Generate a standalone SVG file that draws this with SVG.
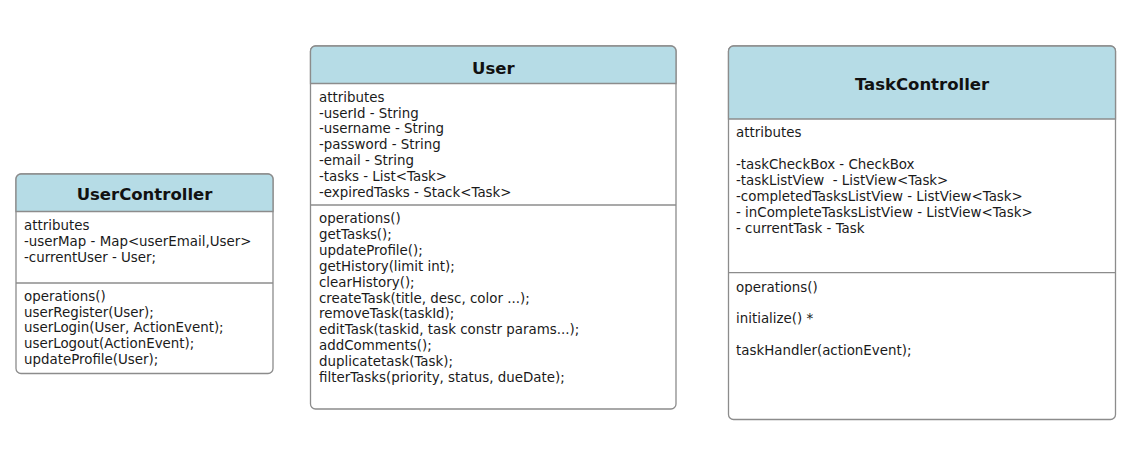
<svg xmlns="http://www.w3.org/2000/svg" width="1138" height="475" viewBox="0 0 1138 475">
<style>
.box{fill:#ffffff;stroke:#8c8c8c;stroke-width:1.3}
.hdr{fill:#b6dce6;stroke:#8c8c8c;stroke-width:1.3}
.sep{stroke:#8c8c8c;stroke-width:1.3;fill:none}
.title{font-family:"DejaVu Sans",Verdana,sans-serif;font-weight:bold;font-size:16.5px;fill:#111;text-anchor:middle}
.t{font-family:"DejaVu Sans",Verdana,sans-serif;font-size:13.4px;fill:#1a1a1a;white-space:pre}
</style>
<rect width="1138" height="475" fill="#ffffff"/>
<g id="connectors"></g>
<g id="UserController">
<rect class="box" x="16" y="174" width="257" height="199.5" rx="5"/>
<path class="hdr" d="M16,211.5 V179 A5,5 0 0 1 21,174 H268 A5,5 0 0 1 273,179 V211.5 Z"/>
<line class="sep" x1="16" y1="283" x2="273" y2="283"/>
<text class="title" x="144.5" y="200">UserController</text>
<text class="t" x="24" y="230">attributes</text>
<text class="t" x="24" y="245.8">-userMap - Map&lt;userEmail,User&gt;</text>
<text class="t" x="24" y="261.6">-currentUser - User;</text>
<text class="t" x="24" y="300.7">operations()</text>
<text class="t" x="24" y="316.5">userRegister(User);</text>
<text class="t" x="24" y="332.3">userLogin(User, ActionEvent);</text>
<text class="t" x="24" y="348.1">userLogout(ActionEvent);</text>
<text class="t" x="24" y="363.9">updateProfile(User);</text>
</g>
<g id="User">
<rect class="box" x="310.5" y="46" width="365.5" height="363" rx="5"/>
<path class="hdr" d="M310.5,83.5 V51 A5,5 0 0 1 315.5,46 H671 A5,5 0 0 1 676,51 V83.5 Z"/>
<line class="sep" x1="310.5" y1="205" x2="676" y2="205"/>
<text class="title" x="493.3" y="73.5">User</text>
<text class="t" x="319" y="101.7">attributes</text>
<text class="t" x="319" y="117.5">-userId - String</text>
<text class="t" x="319" y="133.4">-username - String</text>
<text class="t" x="319" y="149.2">-password - String</text>
<text class="t" x="319" y="165.1">-email - String</text>
<text class="t" x="319" y="180.9">-tasks - List&lt;Task&gt;</text>
<text class="t" x="319" y="196.8">-expiredTasks - Stack&lt;Task&gt;</text>
<text class="t" x="319" y="223.3">operations()</text>
<text class="t" x="319" y="239.1">getTasks();</text>
<text class="t" x="319" y="255">updateProfile();</text>
<text class="t" x="319" y="270.8">getHistory(limit int);</text>
<text class="t" x="319" y="286.7">clearHistory();</text>
<text class="t" x="319" y="302.5">createTask(title, desc, color ...);</text>
<text class="t" x="319" y="318.4">removeTask(taskId);</text>
<text class="t" x="319" y="334.2">editTask(taskid, task constr params...);</text>
<text class="t" x="319" y="350.1">addComments();</text>
<text class="t" x="319" y="365.9">duplicatetask(Task);</text>
<text class="t" x="319" y="381.8">filterTasks(priority, status, dueDate);</text>
</g>
<g id="TaskController">
<rect class="box" x="728.5" y="46" width="387" height="373.5" rx="5"/>
<path class="hdr" d="M728.5,119 V51 A5,5 0 0 1 733.5,46 H1110.5 A5,5 0 0 1 1115.5,51 V119 Z"/>
<line class="sep" x1="728.5" y1="272.7" x2="1115.5" y2="272.7"/>
<text class="title" x="922" y="90">TaskController</text>
<text class="t" x="736" y="137.3">attributes</text>
<text class="t" x="736" y="169.3">-taskCheckBox - CheckBox</text>
<text class="t" x="736" y="185.1">-taskListView  - ListView&lt;Task&gt;</text>
<text class="t" x="736" y="201">-completedTasksListView - ListView&lt;Task&gt;</text>
<text class="t" x="736" y="216.8">- inCompleteTasksListView - ListView&lt;Task&gt;</text>
<text class="t" x="736" y="232.7">- currentTask - Task</text>
<text class="t" x="736" y="291.7">operations()</text>
<text class="t" x="736" y="323.4">initialize() *</text>
<text class="t" x="736" y="355.1">taskHandler(actionEvent);</text>
</g>
</svg>
